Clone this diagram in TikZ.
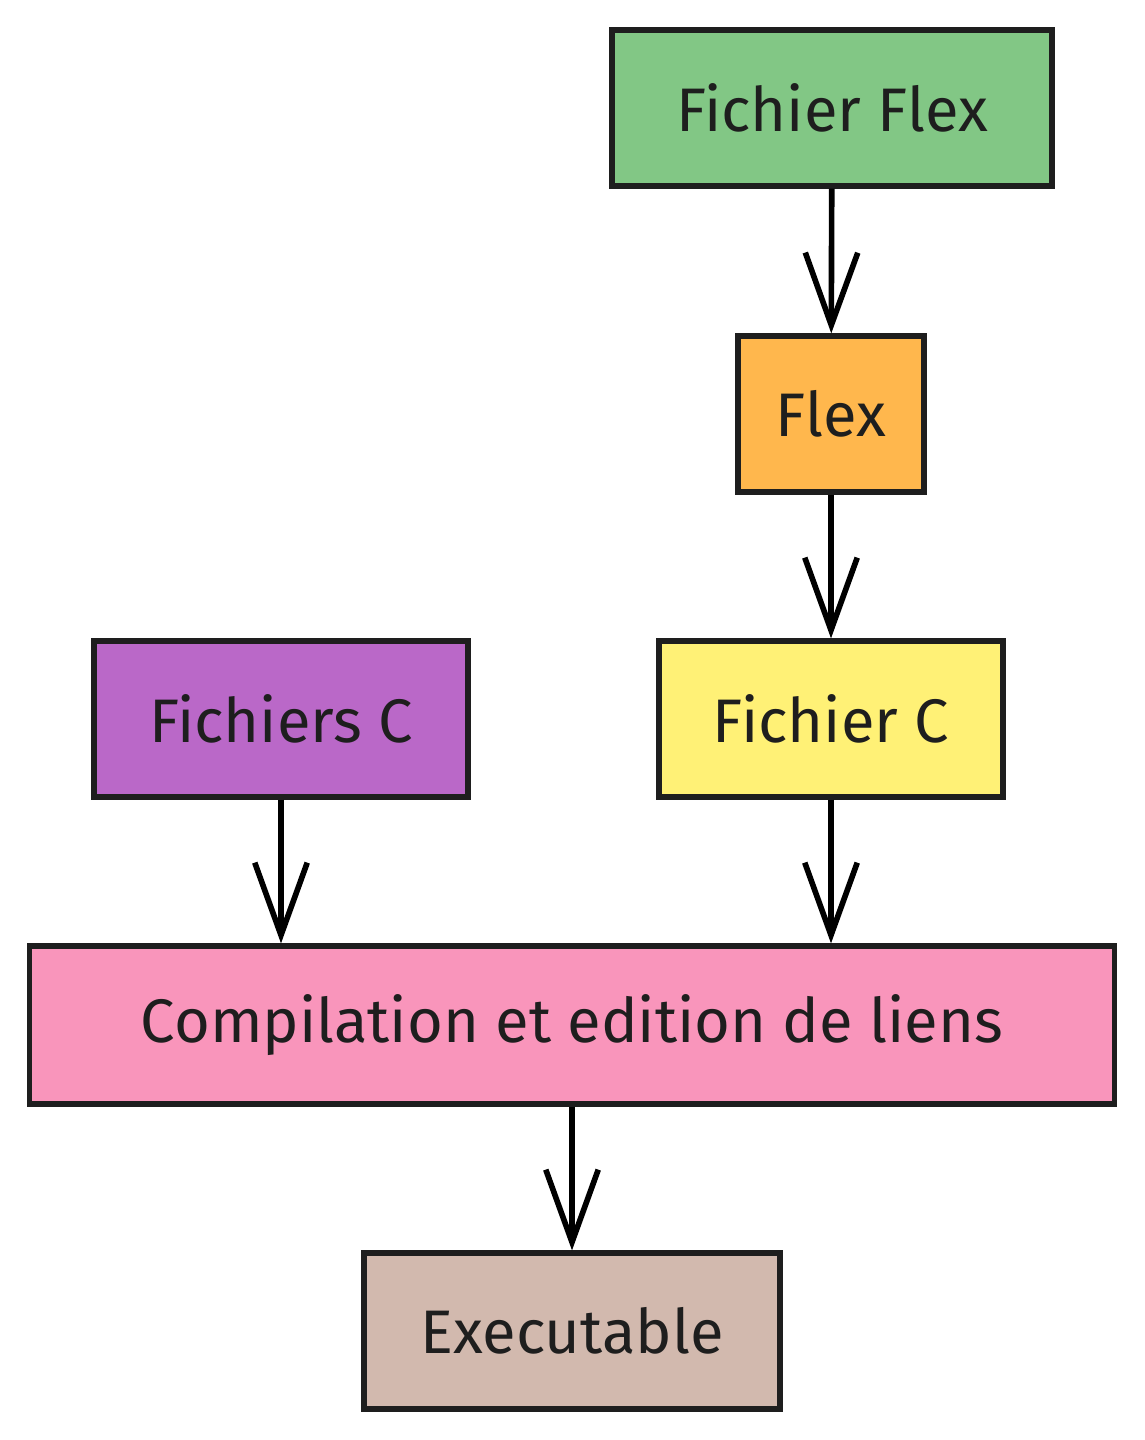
\documentclass[tikz,border=0pt]{standalone}
\usepackage{fontspec}
\setmainfont{Fira Sans}
\usepackage{xcolor}
\usetikzlibrary{arrows.meta, positioning}

\definecolor{flexgreen}{HTML}{82C785}
\definecolor{flexorange}{HTML}{FFB74D}
\definecolor{cyellow}{HTML}{FFF176}
\definecolor{cpurple}{HTML}{BA68C8}
\definecolor{linkpink}{HTML}{F995BB}
\definecolor{exebrown}{HTML}{D2B9AE}
\definecolor{inkblack}{HTML}{1E1E1E}

\begin{document}
\begin{tikzpicture}[x=0.02cm, y=-0.02cm]

% Define styles for the nodes
\tikzstyle{stage} = [rectangle, draw=inkblack, line width=3pt, minimum height=3.12cm, text=inkblack, font=\fontsize{35}{42}\selectfont, text centered]
\tikzstyle{flow} = [line width=3.2pt, -{Straight Barb[length=1.45cm, width=1.05cm, line width=3.2pt]}]

\useasboundingbox (0,0) rectangle (1145,1440);

% Nodes
\node (flexfile) [stage, fill=flexgreen, minimum width=8.8cm] at (832,108) {Fichier Flex};
\node (flex) [stage, fill=flexorange, minimum width=3.72cm] at (831,414) {Flex};
\node (cfile) [stage, fill=cyellow, minimum width=6.88cm] at (831,719) {Fichier C};
\node (cfiles) [stage, fill=cpurple, minimum width=7.48cm] at (281,719) {Fichiers C};
\node (link) [stage, fill=linkpink, minimum width=21.7cm, minimum height=3.16cm] at (572,1025) {Compilation et edition de liens};
\node (exe) [stage, fill=exebrown, minimum width=8.32cm] at (572,1331) {Executable};

% Arrows
\draw[flow] (flexfile) -- (flex);
\draw[flow] (flex) -- (cfile);
\draw[flow] (cfiles.south) -- (cfiles.south |- link.north);
\draw[flow] (cfile.south) -- (cfile.south |- link.north);
\draw[flow] (link) -- (exe);

\end{tikzpicture}
\end{document}
